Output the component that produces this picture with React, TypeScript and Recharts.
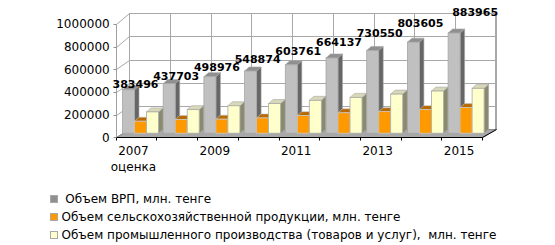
import React from 'react';
import { BarChart, Bar, XAxis, YAxis, CartesianGrid, Legend, LabelList, Customized } from 'recharts';

const years = ['2007', '2008', '2009', '2010', '2011', '2012', '2013', '2014', '2015'];
const yearNotes = ['оценка', '', '', '', '', '', '', '', ''];
const grpValues = [383496, 437703, 498976, 548874, 603761, 664137, 730550, 803605, 883965];
const agroValues = [106000, 121000, 124000, 135000, 155000, 180000, 190000, 208000, 226000];
const industryValues = [188000, 208000, 242000, 262000, 290000, 316000, 345000, 372000, 396000];
const yTicks = [0, 200000, 400000, 600000, 800000, 1000000];
const seriesNames = [
  ' Объем ВРП, млн. тенге',
  'Объем сельскохозяйственной продукции, млн. тенге',
  'Объем промышленного производства (товаров и услуг),  млн. тенге',
];

const chartData = years.map((year, i) => ({
  year,
  grp: grpValues[i],
  agro: agroValues[i],
  industry: industryValues[i],
}));

const FONT = '"DejaVu Sans", Verdana, sans-serif';

// plot area = the plane where the bars stand
const PLOT_LEFT = 119.5;
const PLOT_TOP = 19.9;
const PLOT_W = 366.3;
const PLOT_H = 113.3;
const BAND = PLOT_W / years.length;
const BASE_Y = PLOT_TOP + PLOT_H;

// 3d frame: front edge and back wall relative to the bar plane
const FRONT_DX = -3.8;
const FRONT_DY = 4.1;
const BACK_DX = 9.8;
const BACK_FLOOR_Y = 129;
const BACK_STRETCH = 1.021;
const GRID = '#a8a8a8';

// snap 1px lines onto pixel centres so they stay crisp
const px = (v: number) => Math.round(v) + 0.5;

const frontX = PLOT_LEFT + FRONT_DX;
const backX = PLOT_LEFT + BACK_DX;
const backR = backX + PLOT_W - 1;
const backY = (y: number) => BACK_FLOOR_Y - (BASE_Y - y) * BACK_STRETCH;

const palette = {
  grp: { front: '#c0c0c0', side: '#666666', top: '#8f8f8f', stroke: '#a6a6a6' },
  agro: { front: '#ff9900', side: '#b36b00', top: '#b86a00', stroke: '#c8c8c8' },
  industry: { front: '#ffffcc', side: '#8a8a6e', top: '#d8d8b8', stroke: '#a8a8a8' },
};

const makeBox = (c: { front: string; side: string; top: string; stroke: string }) => (props: any) => {
  const { x, y, width, height } = props;
  if (x == null || width == null || height == null) return <g />;
  const d = 4.5;
  const e = 4;
  const r = x + width;
  const b = y + height;
  return (
    <g>
      <polygon points={`${r},${y} ${r + d},${y - e} ${r + d},${b - e} ${r},${b}`} fill={c.side} stroke={c.stroke} strokeWidth={0.6} />
      <polygon points={`${x},${y} ${x + d},${y - e} ${r + d},${y - e} ${r},${y}`} fill={c.top} stroke={c.stroke} strokeWidth={0.6} />
      <rect x={x} y={y} width={width} height={height} fill={c.front} stroke={c.stroke} strokeWidth={0.8} />
    </g>
  );
};

const GrpBox = makeBox(palette.grp);
const AgroBox = makeBox(palette.agro);
const IndustryBox = makeBox(palette.industry);

const renderValueLabel = (props: any) => {
  const vb = props.viewBox || props;
  const { x, y, width } = vb;
  const index = props.index ?? 0;
  const last = index === years.length - 1;
  const cx = x + width / 2 + 7 + (last ? 14 : 0);
  const by = y - 2 - 1.9 * index;
  return (
    <text x={cx} y={by} textAnchor="middle" fontFamily={FONT} fontSize={11} fontWeight="bold" fill="#000">
      {props.value}
    </text>
  );
};

const YTick = (props: any) => {
  const { y, payload } = props;
  const fy = y + FRONT_DY;
  return (
    <g>
      <line x1={px(frontX) - 3} y1={px(fy)} x2={px(frontX)} y2={px(fy)} stroke="#909090" />
      <text x={frontX - 6} y={fy} dy="0.36em" textAnchor="end" fontFamily={FONT} fontSize={12} fill="#000">
        {payload.value}
      </text>
    </g>
  );
};

const XTick = (props: any) => {
  const { x, payload, index } = props;
  const left = px(x - BAND / 2 + FRONT_DX);
  const fy = px(BASE_Y + FRONT_DY);
  const note = yearNotes[index];
  return (
    <g>
      <line x1={left} y1={fy} x2={left} y2={fy + 3} stroke="#000" />
      {index === years.length - 1 && (
        <line x1={px(left + BAND)} y1={fy} x2={px(left + BAND)} y2={fy + 3} stroke="#000" />
      )}
      {index % 2 === 0 && (
        <text x={x - 6.4} y={BASE_Y + FRONT_DY + 17.5} textAnchor="middle" fontFamily={FONT} fontSize={12} fill="#000">
          {payload.value}
        </text>
      )}
      {index % 2 === 0 && note && (
        <text x={x - 6.4} y={BASE_Y + FRONT_DY + 34} textAnchor="middle" fontFamily={FONT} fontSize={12} fill="#000">
          {note}
        </text>
      )}
    </g>
  );
};

const hLine = (p: any) => {
  const y = p.y1;
  const by = px(backY(y));
  return (
    <polyline
      key={p.key}
      points={`${px(frontX)},${px(y + FRONT_DY)} ${px(backX)},${by} ${px(backR)},${by}`}
      fill="none"
      stroke={GRID}
    />
  );
};

// vertical grid may arrive at category centres or starts; snap to the band start
const vLine = (p: any) => {
  const rel = (p.x1 - PLOT_LEFT) / BAND;
  const frac = rel - Math.floor(rel + 0.01);
  const start = frac > 0.25 && frac < 0.75 ? p.x1 - BAND / 2 : p.x1;
  const x = px(start + BACK_DX);
  return <line key={p.key} x1={x} y1={px(backY(PLOT_TOP))} x2={x} y2={px(BACK_FLOOR_Y)} stroke={GRID} />;
};

const Frame = () => {
  const fy = px(BASE_Y + FRONT_DY);
  const fx = px(frontX);
  const fr = px(frontX + PLOT_W);
  const top = px(backY(PLOT_TOP));
  const bx = px(backX);
  const br = px(backR);
  const bf = px(BACK_FLOOR_Y);
  return (
    <g>
      <line x1={br} y1={top} x2={br} y2={bf} stroke={GRID} />
      <line x1={bx} y1={top} x2={bx} y2={bf} stroke={GRID} />
      <line x1={fx} y1={px(PLOT_TOP + FRONT_DY)} x2={fx} y2={fy} stroke="#a0a0a0" />
      <polygon points={`${fx},${fy} ${fr},${fy} ${br + 1},${bf} ${bx},${bf}`} fill="#a8a8a8" stroke="#8a8a8a" />
      <line x1={fx} y1={fy} x2={fr} y2={fy} stroke="#000" />
      <line x1={fr} y1={fy} x2={br + 1} y2={bf} stroke="#000" />
    </g>
  );
};

const legendColors = [palette.grp.top, palette.agro.front, palette.industry.front];

const renderLegend = () => (
  <div style={{ position: 'relative', height: 56, fontFamily: FONT, fontSize: 12, color: '#000' }}>
    {seriesNames.map((name, i) => (
      <div
        key={name}
        style={{
          position: 'absolute',
          left: 49.5,
          top: i * 17.8,
          height: 16,
          display: 'flex',
          alignItems: 'center',
          whiteSpace: 'pre',
        }}
      >
        <span
          style={{
            display: 'inline-block',
            width: 6,
            height: 6,
            background: legendColors[i],
            border: '1px solid #a8a8a8',
            marginRight: 4,
          }}
        />
        <span>{name}</span>
      </div>
    ))}
  </div>
);

export default function App() {
  return (
    <div style={{ position: 'absolute', left: 0, top: 0, width: 555, height: 245, background: '#fff' }}>
      <BarChart
        width={555}
        height={245}
        data={chartData}
        margin={{ top: PLOT_TOP, right: 555 - PLOT_LEFT - PLOT_W, bottom: 245 - BASE_Y - 30, left: PLOT_LEFT - 60 }}
        barCategoryGap={3}
        barGap={0}
      >
        <CartesianGrid horizontal={hLine} vertical={vLine} />
        <Customized component={Frame} />
        <XAxis dataKey="year" interval={0} tick={XTick} tickLine={false} axisLine={false} height={30} />
        <YAxis width={60} domain={[0, 1000000]} ticks={yTicks} interval={0} tick={YTick} tickLine={false} axisLine={false} />
        <Legend
          content={renderLegend}
          layout="horizontal"
          verticalAlign="middle"
          align="center"
          wrapperStyle={{ left: 0, top: 191, width: 555 }}
        />
        <Bar dataKey="grp" name={seriesNames[0]} fill={palette.grp.front} shape={GrpBox} isAnimationActive={false}>
          <LabelList dataKey="grp" content={renderValueLabel} />
        </Bar>
        <Bar dataKey="agro" name={seriesNames[1]} fill={palette.agro.front} shape={AgroBox} isAnimationActive={false} />
        <Bar dataKey="industry" name={seriesNames[2]} fill={palette.industry.front} shape={IndustryBox} isAnimationActive={false} />
      </BarChart>
    </div>
  );
}
